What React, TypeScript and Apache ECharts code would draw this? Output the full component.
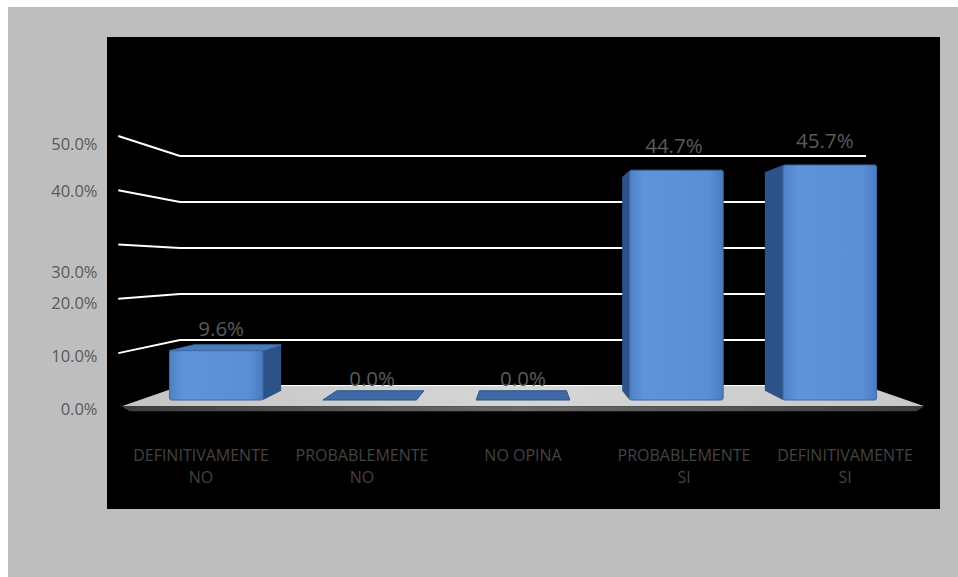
import React, { useEffect, useRef } from "react";
import * as echarts from "echarts";

const categories = [
  "DEFINITIVAMENTE\nNO",
  "PROBABLEMENTE\nNO",
  "NO OPINA",
  "PROBABLEMENTE\nSI",
  "DEFINITIVAMENTE\nSI",
];
const values = [9.6, 0.0, 0.0, 44.7, 45.7];
const yTicks = [0, 10, 20, 30, 40, 50];

const FONT = "'Open Sans', 'Liberation Sans', sans-serif";
const S_FRONT = 1.118;
const S_BACK = 1.04;
const S_FLOOR = 1.17;
const S_WALL = 1.18;
const VY_RATIO = 0.483;

function makeP(cs: any) {
  const VX = cs.x + cs.width / 2;
  const VY = cs.y + cs.height * VY_RATIO;
  return {
    VX,
    VY,
    P: (x: number, y: number, s: number) => [VX + (x - VX) * s, VY + (y - VY) * s],
  };
}

export default function App() {
  const ref = useRef<HTMLDivElement>(null);
  useEffect(() => {
    if (!ref.current) return;
    const chart = echarts.init(ref.current, undefined, { renderer: "svg" });

    const floorItem = (params: any, api: any) => {
      const cs = params.coordSys;
      const { P } = makeP(cs);
      const xL = cs.x;
      const xR = cs.x + cs.width;
      const g0 = api.coord([0, 0])[1];
      const a = P(xL, g0, 1);
      const b = P(xR, g0, 1);
      const c = P(xR, g0, S_FLOOR);
      const d = P(xL, g0, S_FLOOR);
      const children: any[] = [
        {
          type: "polygon",
          shape: { points: [a, b, c, d] },
          style: {
            fill: new echarts.graphic.LinearGradient(0, 0, 1, 0, [
              { offset: 0, color: "#c4c4c4" },
              { offset: 0.5, color: "#d6d6d6" },
              { offset: 1, color: "#c8c8c8" },
            ]),
          },
        },
        {
          type: "polygon",
          shape: { points: [d, c, [c[0] - 8, c[1] + 5], [d[0] + 8, d[1] + 5]] },
          style: {
            fill: new echarts.graphic.LinearGradient(0, 0, 1, 0, [
              { offset: 0, color: "#3e3e3e" },
              { offset: 0.5, color: "#6a6a6a" },
              { offset: 1, color: "#3e3e3e" },
            ]),
          },
        },
      ];
      yTicks.forEach((t) => {
        if (t === 0) return;
        const gy = api.coord([0, t])[1];
        const p1 = P(xL, gy, 1);
        const p2 = P(xL, gy, S_WALL);
        children.push({
          type: "line",
          shape: { x1: p2[0], y1: p2[1], x2: p1[0], y2: p1[1] },
          style: { stroke: "#ffffff", lineWidth: 2 },
        });
      });
      return { type: "group", children };
    };

    const barItem = (params: any, api: any) => {
      const cs = params.coordSys;
      const { VX, VY, P } = makeP(cs);
      const idx = api.value(0);
      const v = api.value(1);
      const [cx, gy] = api.coord([idx, v]);
      const g0 = api.coord([idx, 0])[1];
      const band = api.size([1, 0])[0];
      const hw = band * 0.305;
      const xl = cx - hw;
      const xr = cx + hw;
      const children: any[] = [];
      const zero = Math.abs(gy - g0) < 0.5;
      if (!zero && Math.abs(cx - VX) > 5) {
        const xs = cx < VX ? xr : xl;
        children.push({
          type: "polygon",
          shape: { points: [P(xs, gy, S_BACK), P(xs, gy, S_FRONT), P(xs, g0, S_FRONT), P(xs, g0, S_BACK)] },
          style: { fill: "#2c5288" },
        });
      }
      if (gy > VY - 1) {
        children.push({
          type: "polygon",
          shape: { points: [P(xl, gy, S_BACK), P(xr, gy, S_BACK), P(xr, gy, S_FRONT), P(xl, gy, S_FRONT)] },
          style: {
            fill: zero ? "#3f6aa6" : "#4b7bbd",
            stroke: zero ? "#2e5287" : "#4272b2",
            lineWidth: 1,
          },
        });
      }
      if (!zero) {
        const f1 = P(xl, gy, S_FRONT);
        const f2 = P(xr, g0, S_FRONT);
        children.push({
          type: "rect",
          shape: { x: f1[0], y: f1[1], width: f2[0] - f1[0], height: f2[1] - f1[1], r: 2 },
          style: {
            fill: new echarts.graphic.LinearGradient(0, 0, 1, 0, [
              { offset: 0, color: "#4f80c3" },
              { offset: 0.15, color: "#5f93da" },
              { offset: 0.85, color: "#5a8ed6" },
              { offset: 1, color: "#4a7bbf" },
            ]),
            stroke: "#3d6aa6",
            lineWidth: 1,
          },
        });
      }
      const lx = VX + (cx - VX) * 1.1;
      const ly = VY + (gy - VY) * 1.132 - 23.7;
      children.push({
        type: "text",
        x: lx,
        y: ly,
        style: {
          text: v.toFixed(1) + "%",
          fill: "#5a5a5a",
          fontSize: 20.5,
          fontFamily: FONT,
          align: "center",
          verticalAlign: "middle",
        },
      });
      return { type: "group", children };
    };

    const labelShift: Record<number, string> = { 30: "d", 40: "u" };

    const option: any = {
      animation: false,
      backgroundColor: "#ffffff",
      graphic: [
        { type: "rect", z: -10, shape: { x: 8, y: 7, width: 950, height: 570 }, style: { fill: "#bebebe" } },
        { type: "rect", z: -9, shape: { x: 107, y: 37, width: 833, height: 472 }, style: { fill: "#000000" } },
      ],
      grid: [
        { left: 180, right: 92, top: 156, bottom: 191 },
        { left: 120.5, right: 32.5, top: 143, bottom: 169 },
      ],
      xAxis: [
        {
          gridIndex: 0,
          type: "category",
          data: categories,
          axisLabel: { show: false },
          axisLine: { show: false },
          axisTick: { show: false },
          splitLine: { show: false },
        },
        {
          gridIndex: 1,
          type: "category",
          data: categories,
          axisLine: { show: false },
          axisTick: { show: false },
          splitLine: { show: false },
          axisLabel: {
            interval: 0,
            color: "#434343",
            fontSize: 16,
            lineHeight: 22,
            margin: 36,
            fontFamily: FONT,
          },
        },
      ],
      yAxis: [
        {
          gridIndex: 0,
          type: "value",
          min: 0,
          max: 50,
          interval: 10,
          axisLabel: { show: false },
          axisLine: { show: false },
          axisTick: { show: false },
          splitLine: { show: true, lineStyle: { color: "#ffffff", width: 2 } },
        },
        {
          gridIndex: 1,
          type: "value",
          min: 0,
          max: 50,
          interval: 10,
          axisLine: { show: false },
          axisTick: { show: false },
          splitLine: { show: false },
          axisLabel: {
            margin: 23,
            color: "#595959",
            fontSize: 16.5,
            fontFamily: FONT,
            formatter: (val: number) => {
              const k = labelShift[val] || "n";
              return `{${k}|${val.toFixed(1)}%}`;
            },
            rich: {
              n: { fontSize: 16.5, fontFamily: FONT, color: "#595959" },
              d: { fontSize: 16.5, fontFamily: FONT, color: "#595959", padding: [44, 0, 0, 0] },
              u: { fontSize: 16.5, fontFamily: FONT, color: "#595959", padding: [0, 0, 12, 0] },
            },
          },
        },
      ],
      series: [
        {
          type: "custom",
          name: "floor",
          xAxisIndex: 0,
          yAxisIndex: 0,
          z: 1,
          silent: true,
          data: [[0, 0]],
          renderItem: floorItem,
        },
        {
          type: "custom",
          name: "bars",
          xAxisIndex: 0,
          yAxisIndex: 0,
          z: 3,
          data: values.map((v, i) => [i, v]),
          encode: { x: 0, y: 1 },
          renderItem: barItem,
        },
      ],
    };
    chart.setOption(option);
    return () => chart.dispose();
  }, []);
  return (
    <div
      ref={ref}
      style={{ position: "fixed", left: 0, top: 0, width: 958, height: 577 }}
    />
  );
}
